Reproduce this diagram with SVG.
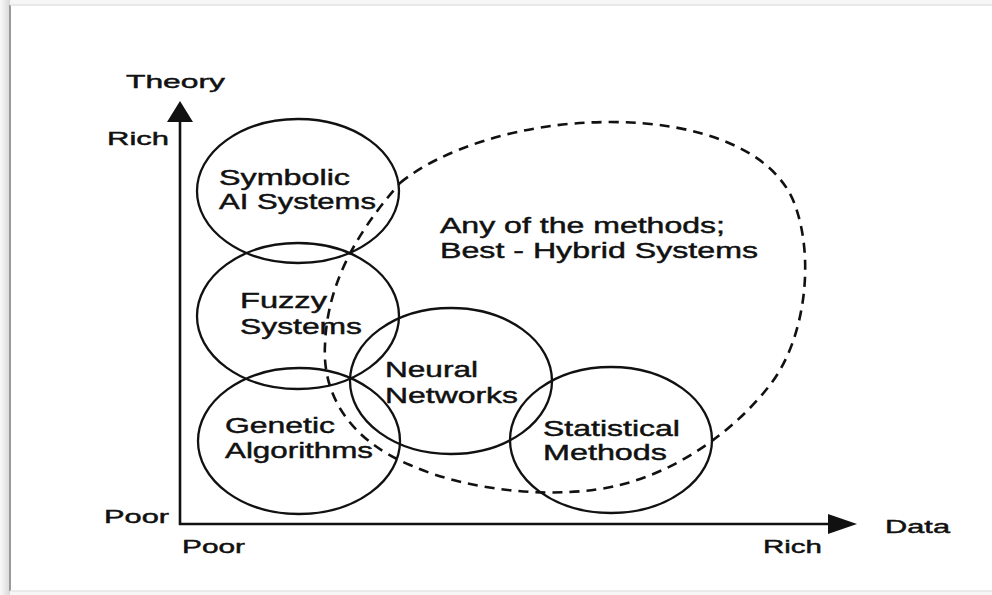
<svg xmlns="http://www.w3.org/2000/svg" width="992" height="595" viewBox="0 0 992 595">
<style>
text{font-family:"Liberation Sans",Arial,sans-serif;fill:#111;stroke:#111;stroke-width:0.45;}
.lbl{font-size:22px;}
.ax{font-size:19px;}
.ell{fill:none;stroke:#111;stroke-width:2.3;}
.dash{fill:none;stroke:#111;stroke-width:2.6;stroke-dasharray:10 7;}
.axis{stroke:#111;stroke-width:2.6;fill:none;}
</style>
<defs>
<linearGradient id="lg" x1="0" x2="1" y1="0" y2="0">
<stop offset="0" stop-color="#fafafa"/><stop offset="1" stop-color="#d8d8d8"/>
</linearGradient>
</defs>
<rect x="0" y="0" width="992" height="595" fill="#f6f6f6"/>
<rect x="0" y="0" width="10" height="595" fill="url(#lg)"/>
<rect x="10" y="5" width="982" height="586" fill="#ffffff"/>
<line x1="10" y1="5" x2="10" y2="591" stroke="#9a9a9a" stroke-width="2"/>
<line x1="10" y1="5" x2="992" y2="5" stroke="#e2e2e2" stroke-width="1.5"/>
<line x1="10" y1="591" x2="992" y2="591" stroke="#e6e6e6" stroke-width="1.5"/>

<g id="connectors">
<line class="axis" x1="180" y1="120" x2="180" y2="525"/>
<polygon points="180,101 167,122 193,122" fill="#111"/>
<line class="axis" x1="179" y1="524" x2="830" y2="524"/>
<polygon points="857,524 828,514 828,534" fill="#111"/>
</g>

<g id="axis-labels">
<text class="ax" x="126" y="88" textLength="99" lengthAdjust="spacingAndGlyphs">Theory</text>
<text class="ax" x="107" y="145" textLength="62" lengthAdjust="spacingAndGlyphs">Rich</text>
<text class="ax" x="104" y="523" textLength="65" lengthAdjust="spacingAndGlyphs">Poor</text>
<text class="ax" x="885" y="533" textLength="65" lengthAdjust="spacingAndGlyphs">Data</text>
<text class="ax" x="182" y="553" textLength="63" lengthAdjust="spacingAndGlyphs">Poor</text>
<text class="ax" x="763" y="553" textLength="59" lengthAdjust="spacingAndGlyphs">Rich</text>
</g>

<g id="hybrid">
<path class="dash" d="M 400 183 C 440 150, 520 122, 610 122 C 700 122, 775 150, 795 205 C 815 260, 805 340, 770 385 C 735 430, 680 470, 620 485 C 560 500, 470 492, 410 465 C 350 440, 322 395, 325 345 C 327 290, 350 240, 400 183 Z"/>
<text class="lbl" x="440" y="233" textLength="285" lengthAdjust="spacingAndGlyphs">Any of the methods;</text>
<text class="lbl" x="440" y="258" textLength="318" lengthAdjust="spacingAndGlyphs">Best - Hybrid Systems</text>
</g>

<g id="symbolic">
<ellipse class="ell" cx="298" cy="191" rx="101" ry="72"/>
<text class="lbl" x="219" y="185" textLength="131" lengthAdjust="spacingAndGlyphs">Symbolic</text>
<text class="lbl" x="219" y="209" textLength="157" lengthAdjust="spacingAndGlyphs">AI Systems</text>
</g>

<g id="fuzzy">
<ellipse class="ell" cx="298" cy="316" rx="101" ry="73"/>
<text class="lbl" x="240" y="308" textLength="87" lengthAdjust="spacingAndGlyphs">Fuzzy</text>
<text class="lbl" x="240" y="334" textLength="122" lengthAdjust="spacingAndGlyphs">Systems</text>
</g>

<g id="genetic">
<ellipse class="ell" cx="299" cy="441" rx="101" ry="73"/>
<text class="lbl" x="225" y="433" textLength="110" lengthAdjust="spacingAndGlyphs">Genetic</text>
<text class="lbl" x="225" y="458" textLength="148" lengthAdjust="spacingAndGlyphs">Algorithms</text>
</g>

<g id="neural">
<ellipse class="ell" cx="451" cy="381" rx="101" ry="73"/>
<text class="lbl" x="385" y="377" textLength="93" lengthAdjust="spacingAndGlyphs">Neural</text>
<text class="lbl" x="385" y="403" textLength="133" lengthAdjust="spacingAndGlyphs">Networks</text>
</g>

<g id="statistical">
<ellipse class="ell" cx="611" cy="440" rx="101" ry="73"/>
<text class="lbl" x="543" y="436" textLength="137" lengthAdjust="spacingAndGlyphs">Statistical</text>
<text class="lbl" x="543" y="460" textLength="124" lengthAdjust="spacingAndGlyphs">Methods</text>
</g>
</svg>
